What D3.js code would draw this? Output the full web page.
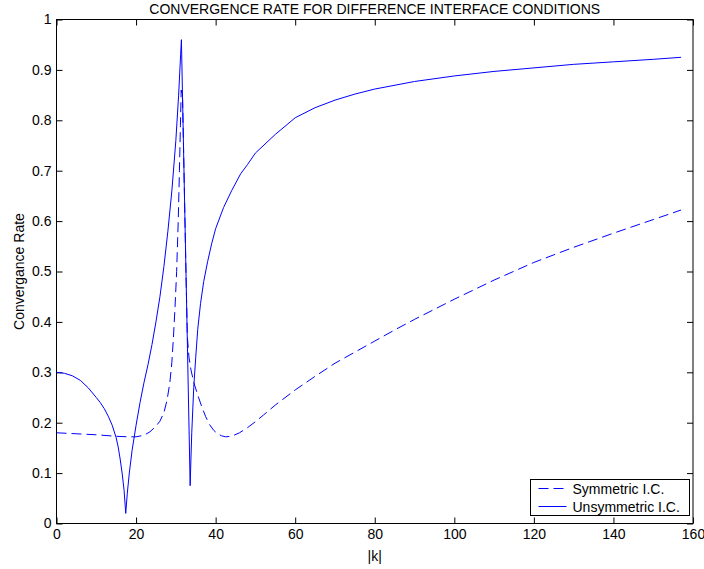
<!DOCTYPE html>
<html><head><meta charset="utf-8">
<script src="https://cdn.jsdelivr.net/npm/d3@7"></script>
<style>body{margin:0;background:#fff}svg{display:block}text{font-family:"Liberation Sans",Arial,sans-serif;fill:#000}</style>
</head><body><svg id="c" width="704" height="569"></svg>
<script>
const title = "CONVERGENCE RATE FOR DIFFERENCE INTERFACE CONDITIONS";
const xLabel = "|k|";
const yLabel = "Convergance Rate";
const seriesNames = ["Symmetric I.C.", "Unsymmetric I.C."];
const xTicks = [0,20,40,60,80,100,120,140,160];
const yTicks = [0,0.1,0.2,0.3,0.4,0.5,0.6,0.7,0.8,0.9,1];

const kUnsym = [0,2,4,6,8,10,11,12,13,14,15,15.5,16,16.5,17,17.4,17.8,18.3,19,20,21,22,23,24,25,26,27,28,29,30,30.7,31.2,31.4,33.6,33.8,34.0,34.5,35,35.5,36.2,37,38,39,40,42,44,46.3,48,50,55,60,65,70,75,80,90,100,110,120,130,140,150,157];
const vUnsym = [0.300,0.298,0.293,0.284,0.269,0.250,0.240,0.228,0.213,0.195,0.170,0.152,0.128,0.100,0.065,0.020,0.060,0.100,0.145,0.195,0.240,0.280,0.315,0.355,0.400,0.450,0.510,0.580,0.660,0.760,0.850,0.930,0.960,0.075,0.130,0.180,0.270,0.330,0.385,0.436,0.480,0.520,0.555,0.585,0.627,0.660,0.694,0.712,0.735,0.772,0.805,0.825,0.840,0.852,0.862,0.877,0.888,0.897,0.904,0.911,0.916,0.921,0.925];

const kSym = [0,5,10,15,18,20,22,23.5,25,26,27,27.8,28.5,29,29.4,29.8,30.2,30.6,30.9,31.15,31.35,31.7,32.2,32.6,32.9,33.3,33.8,34.5,35.5,36.5,37.5,38.5,39.5,40.5,41.5,42.5,44,46,48,50,52,55,60,65,70,75,80,85,90,95,100,110,120,130,140,150,157];
const vSym = [0.180,0.178,0.176,0.173,0.172,0.172,0.175,0.182,0.193,0.203,0.220,0.245,0.280,0.320,0.370,0.430,0.500,0.600,0.700,0.790,0.860,0.840,0.638,0.478,0.370,0.330,0.305,0.280,0.255,0.232,0.212,0.196,0.185,0.178,0.174,0.172,0.173,0.180,0.190,0.202,0.215,0.235,0.265,0.292,0.318,0.340,0.362,0.384,0.405,0.425,0.445,0.483,0.518,0.548,0.576,0.603,0.622];

const svg = d3.select("#c");
const L = 56.5, R = 693, T = 19.5, B = 523.5;
const x = d3.scaleLinear().domain([0,160]).range([L,R]);
const y = d3.scaleLinear().domain([0,1]).range([B,T]);

svg.append("rect").attr("x",0).attr("y",0).attr("width",704).attr("height",569).attr("fill","#fff");

const fs = 14;
const gB = svg.append("g").attr("transform",`translate(0,${B})`)
  .call(d3.axisBottom(x).tickValues(xTicks).tickSize(-6).tickPadding(6).tickFormat(d3.format("d")));
const gT = svg.append("g").attr("transform",`translate(0,${T})`)
  .call(d3.axisTop(x).tickValues(xTicks).tickSize(-6).tickFormat(""));
const gL = svg.append("g").attr("transform",`translate(${L},0)`)
  .call(d3.axisLeft(y).tickValues(yTicks).tickSize(-6).tickPadding(5).tickFormat(d=>d3.format("")(+d.toFixed(1))));
const gR = svg.append("g").attr("transform",`translate(${R},0)`)
  .call(d3.axisRight(y).tickValues(yTicks).tickSize(-6).tickFormat(""));
[gB,gT,gL,gR].forEach(g=>{
  g.select(".domain").remove();
  g.selectAll("line").attr("stroke","#000");
  g.selectAll("text").attr("font-size",fs).attr("font-family","Liberation Sans, Arial, sans-serif").attr("fill","#000");
});
svg.append("rect").attr("x",L).attr("y",T).attr("width",R-L).attr("height",B-T)
  .attr("fill","none").attr("stroke","#000").attr("stroke-width",1);

const line = d3.line().x(d=>x(d[0])).y(d=>y(d[1]));
const symData = kSym.map((k,i)=>[k,vSym[i]]);
const unsData = kUnsym.map((k,i)=>[k,vUnsym[i]]);
svg.append("path").attr("d",line(symData)).attr("fill","none").attr("stroke","#0000ff").attr("stroke-width",1).attr("stroke-dasharray","10,5");
svg.append("path").attr("d",line(unsData)).attr("fill","none").attr("stroke","#0000ff").attr("stroke-width",1);

svg.append("text").attr("x",(L+R)/2).attr("y",14).attr("text-anchor","middle").attr("font-size",fs).text(title);
svg.append("text").attr("x",(L+R)/2).attr("y",561).attr("text-anchor","middle").attr("font-size",fs).text(xLabel);
svg.append("text").attr("transform",`translate(24,${(T+B)/2}) rotate(-90)`).attr("text-anchor","middle").attr("font-size",fs).text(yLabel);

const lgX0 = 530.5, lgX1 = 689.5, lgY0 = 479.5, lgY1 = 515.5;
const lg = svg.append("g");
lg.append("rect").attr("x",lgX0).attr("y",lgY0).attr("width",lgX1-lgX0).attr("height",lgY1-lgY0).attr("fill","#fff").attr("stroke","#000");
const rowH = (lgY1-lgY0)/2;
seriesNames.forEach((nm,i)=>{
  const cy = lgY0 + rowH*(i+0.5);
  lg.append("line").attr("x1",lgX0+8).attr("x2",lgX0+36).attr("y1",cy).attr("y2",cy)
    .attr("stroke","#0000ff").attr("stroke-width",1).attr("stroke-dasharray", i===0 ? "10,5" : null);
  lg.append("text").attr("x",lgX0+42).attr("y",cy+5).attr("font-size",fs).text(nm);
});
</script></body></html>
